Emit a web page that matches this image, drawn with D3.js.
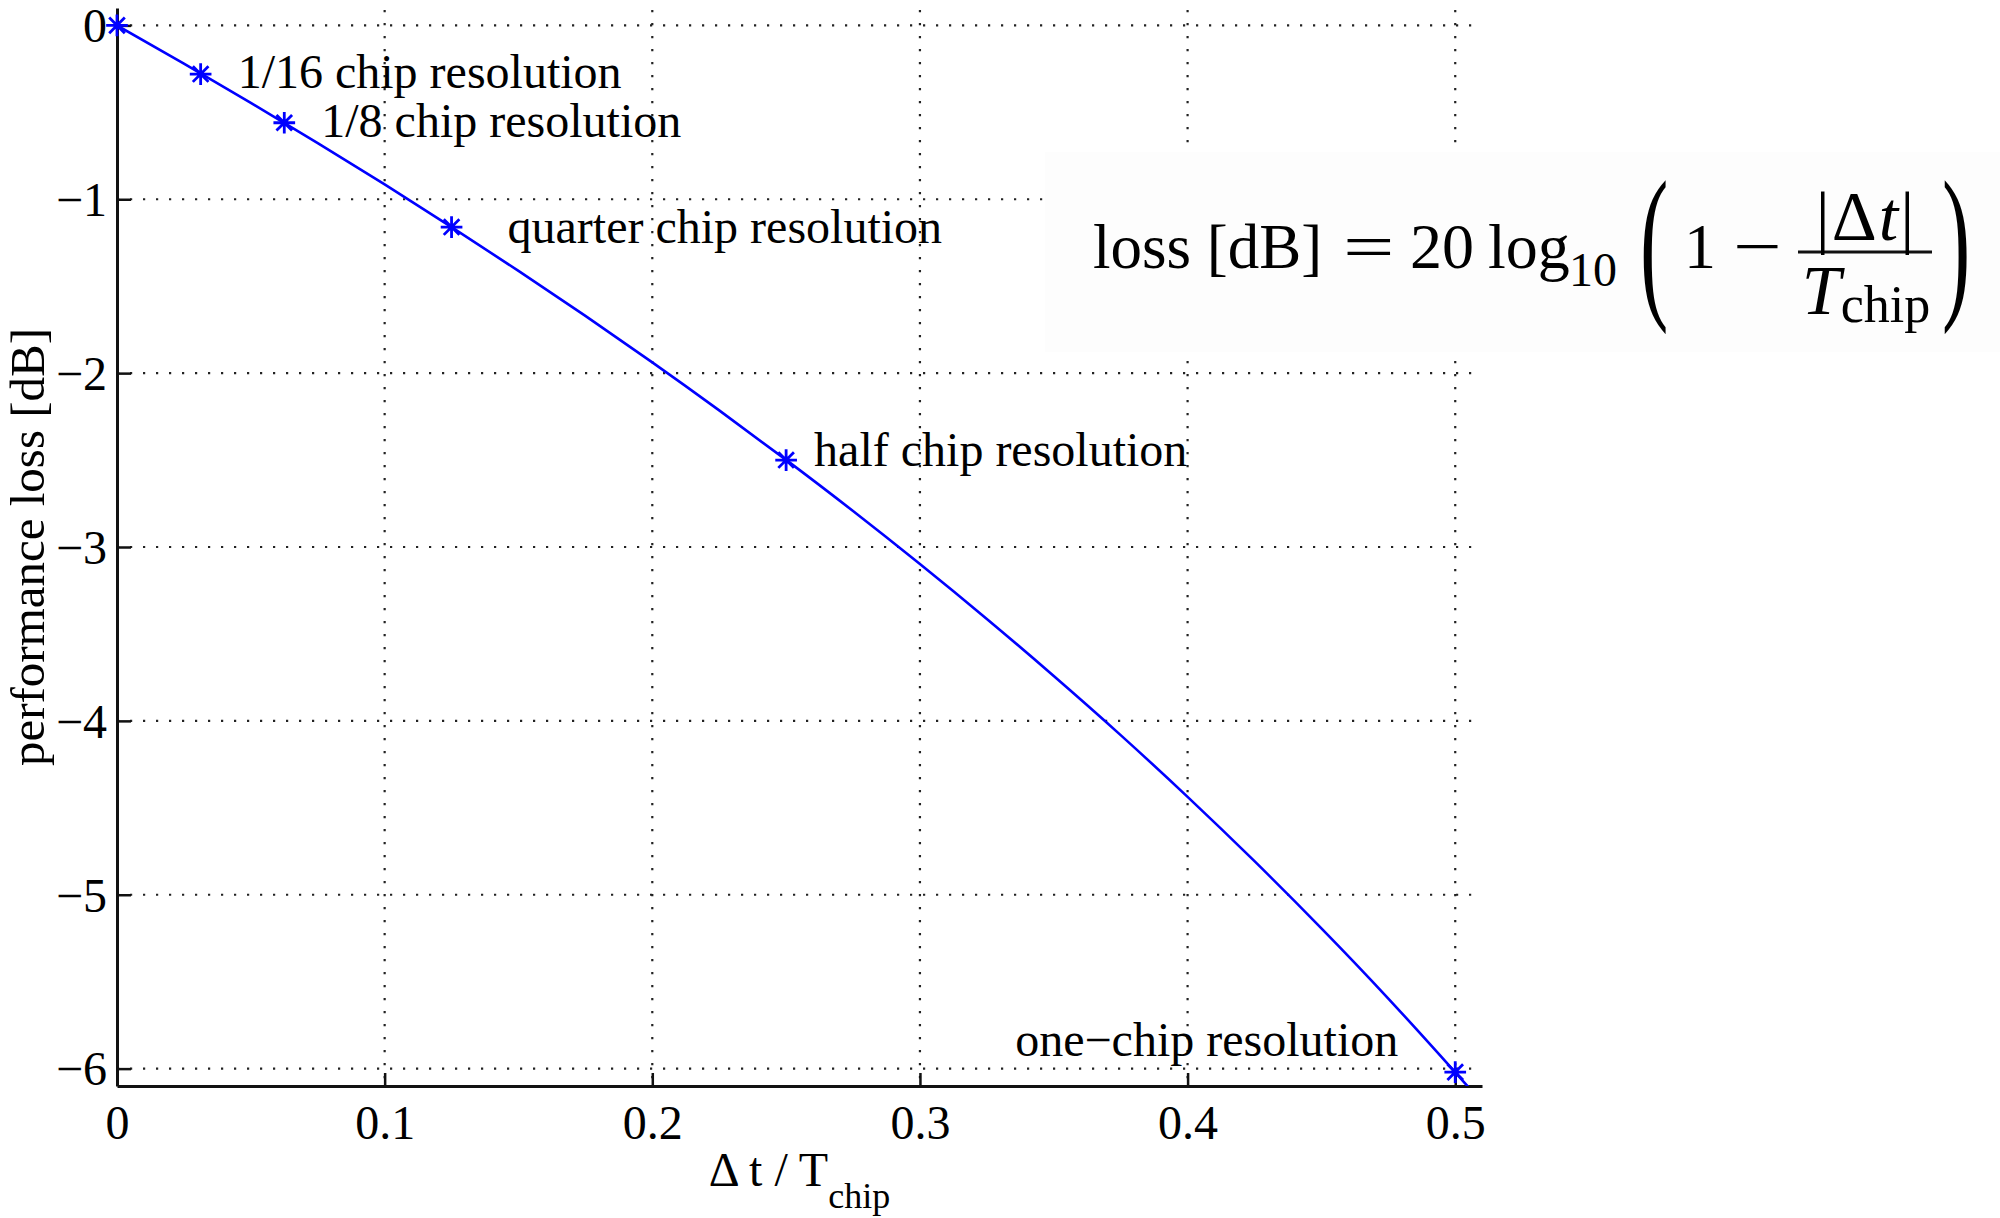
<!DOCTYPE html>
<html><head><meta charset="utf-8">
<script src="https://cdn.jsdelivr.net/npm/d3@7"></script>
<style>
body{margin:0;background:#fff}
svg{display:block}
text{font-family:"Liberation Serif","Times New Roman",serif;fill:#000}
</style>
</head><body>
<svg id="c" width="2000" height="1218"></svg>
<script>
// ---- data ----
const lossX = [0, 0.025, 0.05, 0.075, 0.1, 0.125, 0.15, 0.175, 0.2, 0.225, 0.25, 0.275, 0.3, 0.325, 0.35, 0.375, 0.4, 0.425, 0.45, 0.475, 0.5, 0.51];
const lossY = [0, -0.220, -0.446, -0.677, -0.915, -1.160, -1.412, -1.671, -1.938, -2.214, -2.499, -2.793, -3.098, -3.414, -3.742, -4.082, -4.437, -4.807, -5.193, -5.597, -6.021, -6.196];
const markerX = [0, 0.03125, 0.0625, 0.125, 0.25, 0.5];
const markerY = [0, -0.28, -0.56, -1.16, -2.50, -6.02];
const markerLabels = ["", "1/16 chip resolution", "1/8 chip resolution", "quarter chip resolution", "half chip resolution", "one\u2212chip resolution"];
const xTicks = [0, 0.1, 0.2, 0.3, 0.4, 0.5];
const xTickLabels = ["0", "0.1", "0.2", "0.3", "0.4", "0.5"];
const yTicks = [0, -1, -2, -3, -4, -5, -6];
const yTickLabels = ["0", "\u22121", "\u22122", "\u22123", "\u22124", "\u22125", "\u22126"];

// label placement offsets (pixels from marker)
const labelDx = [0, 37, 37, 56, 28, -57];
const labelDy = [0, 14, 14, 16, 6, -16];
const labelAnchor = ["start", "start", "start", "start", "start", "end"];

const svg = d3.select("#c");
const L = 117, R = 1482, T = 8, B = 1086;
const x = d3.scaleLinear().domain([0, 0.51]).range([L, R]);
const y = d3.scaleLinear().domain([-6.1, 0.1]).range([B, T]);

// grid
const grid = svg.append("g").attr("stroke", "#222").attr("stroke-width", 2.2).attr("stroke-dasharray", "2.2 10.8");
grid.selectAll("line.v").data(xTicks.slice(1)).join("line")
  .attr("x1", d => x(d)).attr("x2", d => x(d)).attr("y1", T + 2).attr("y2", B);
grid.selectAll("line.h").data(yTicks).join("line")
  .attr("x1", L).attr("x2", R).attr("y1", d => y(d)).attr("y2", d => y(d));

// formula backdrop (covers grid like the pasted image)
svg.append("rect").attr("x", 1045).attr("y", 152).attr("width", 955).attr("height", 200).attr("fill", "#fdfdfd");

// axes
const yAxis = d3.axisLeft(y).tickValues(yTicks).tickFormat((d, i) => yTickLabels[i])
  .tickSizeInner(-14).tickSizeOuter(0).tickPadding(10);
const xAxis = d3.axisBottom(x).tickValues(xTicks).tickFormat((d, i) => xTickLabels[i])
  .tickSizeInner(-13).tickSizeOuter(0).tickPadding(19);

const gy = svg.append("g").attr("transform", `translate(${L},0)`).call(yAxis);
const gx = svg.append("g").attr("transform", `translate(0,${B})`).call(xAxis);
[gx, gy].forEach(g => {
  g.select(".domain").attr("stroke", "#111").attr("stroke-width", 3);
  g.selectAll(".tick line").attr("stroke", "#111").attr("stroke-width", 2.5);
  g.selectAll(".tick text").attr("font-size", 48).attr("font-family", '"Liberation Serif",serif').attr("fill", "#000");
});
gy.selectAll(".tick text").attr("dy", "0.34em");

// clip
svg.append("clipPath").attr("id", "clip").append("rect").attr("x", L).attr("y", T).attr("width", R - L).attr("height", B - T);

// curve
const pts = lossX.map((v, i) => [v, lossY[i]]);
svg.append("path").attr("clip-path", "url(#clip)")
  .attr("d", d3.line().x(d => x(d[0])).y(d => y(d[1])).curve(d3.curveNatural)(pts))
  .attr("fill", "none").attr("stroke", "#0000ff").attr("stroke-width", 2.6);

// asterisk markers (+ and x)
const star = {draw(ctx, size) {
  const r = Math.sqrt(size) / 2, d = r * 0.72;
  ctx.moveTo(-r, 0); ctx.lineTo(r, 0);
  ctx.moveTo(0, -r); ctx.lineTo(0, r);
  ctx.moveTo(-d, -d); ctx.lineTo(d, d);
  ctx.moveTo(-d, d); ctx.lineTo(d, -d);
}};
svg.append("g").selectAll("path").data(markerX).join("path")
  .attr("transform", (d, i) => `translate(${x(d)},${y(markerY[i])})`)
  .attr("d", d3.symbol(star, 470)())
  .attr("fill", "none").attr("stroke", "#0000ff").attr("stroke-width", 2.8);

// marker labels
svg.append("g").selectAll("text").data(markerX).join("text")
  .attr("x", (d, i) => x(d) + labelDx[i]).attr("y", (d, i) => y(markerY[i]) + labelDy[i])
  .attr("text-anchor", (d, i) => labelAnchor[i])
  .attr("font-size", 48).text((d, i) => markerLabels[i]);

// axis labels
svg.append("text").attr("transform", `translate(44,${(T + B) / 2}) rotate(-90)`)
  .attr("text-anchor", "middle").attr("font-size", 49).text("performance loss [dB]");
const xl = svg.append("text").attr("x", (L + R) / 2).attr("y", 1186).attr("text-anchor", "middle").attr("font-size", 48);
xl.append("tspan").text("\u0394 t / T");
xl.append("tspan").attr("font-size", 36).attr("dy", 22).text("chip");

// formula
const F = svg.append("g");
F.append("text").attr("x", 1093).attr("y", 268).attr("font-size", 63).text("loss [dB]");
F.append("text").attr("transform", "translate(1343,268) scale(1.45,1)").attr("font-size", 63).text("=");
F.append("text").attr("x", 1410).attr("y", 268).attr("font-size", 64).text("20");
F.append("text").attr("x", 1488).attr("y", 268).attr("font-size", 64).text("log");
F.append("text").attr("x", 1569).attr("y", 286).attr("font-size", 48).text("10");
F.append("text").attr("transform", "translate(1640,298) scale(0.5,1)").attr("font-size", 170).text("(");
F.append("text").attr("x", 1684).attr("y", 268).attr("font-size", 64).text("1");
F.append("text").attr("transform", "translate(1733,268) scale(1.35,1)").attr("font-size", 64).text("\u2212");
F.append("line").attr("x1", 1798).attr("x2", 1932).attr("y1", 252).attr("y2", 252).attr("stroke", "#111").attr("stroke-width", 3);
const num = F.append("text").attr("x", 1866).attr("y", 240).attr("text-anchor", "middle").attr("font-size", 70).attr("letter-spacing", 2);
num.append("tspan").text("|\u0394");
num.append("tspan").attr("font-style", "italic").text("t");
num.append("tspan").text("|");
const den = F.append("text").attr("x", 1866).attr("y", 314).attr("text-anchor", "middle").attr("font-size", 70);
den.append("tspan").attr("font-style", "italic").text("T");
den.append("tspan").attr("font-size", 52).attr("dy", 8).text("chip");
F.append("text").attr("transform", "translate(1942,298) scale(0.5,1)").attr("font-size", 170).text(")");
</script>
</body></html>
